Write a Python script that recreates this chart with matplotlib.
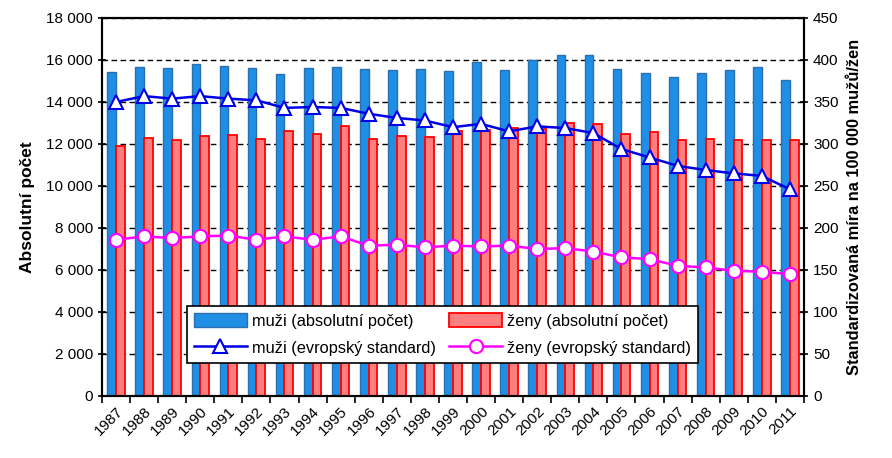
import matplotlib.pyplot as plt
from matplotlib.ticker import FuncFormatter, MultipleLocator
import numpy as np

plt.rcParams['font.family'] = ['Liberation Sans', 'DejaVu Sans']

roky = list(range(1987, 2012))

# absolutni pocty
muzi_abs = [15410, 15650, 15600, 15810, 15700, 15630, 15350, 15600, 15650, 15555,
            15505, 15570, 15460, 15900, 15540, 16000, 16220, 16250, 15590, 15380,
            15210, 15360, 15520, 15680, 15030]
zeny_abs = [11920, 12290, 12180, 12400, 12440, 12250, 12620, 12490, 12840, 12220,
            12360, 12330, 12620, 12680, 12780, 12730, 13020, 12950, 12480, 12560,
            12190, 12250, 12190, 12175, 12175]

# evropsky standard
muzi_std = [350, 357, 354, 357, 354, 352, 343, 344, 343, 336,
            331, 328, 320, 324, 315, 321, 319, 313, 294, 284,
            274, 269, 265, 262, 246]
zeny_std = [186, 190, 188, 190, 191, 186, 190, 186, 190, 179,
            180, 177, 179, 178, 179, 175, 176, 172, 165, 163,
            155, 153, 149, 148, 145]

x = np.arange(len(roky))

fig = plt.figure(figsize=(8.92, 4.58), dpi=100)
ax = fig.add_axes([0.1143, 0.1354, 0.787, 0.8253])
ax2 = ax.twinx()

w = 0.31
ax.bar(x - w / 2, muzi_abs, w, color='#1f8fe6', edgecolor='#2b6fae', linewidth=1,
       label='muži (absolutní počet)')
ax.bar(x + w / 2, zeny_abs, w, color='#ff7f7f', edgecolor='#ff0000', linewidth=1.3,
       label='ženy (absolutní počet)')

ax2.plot(x, muzi_std, color='#0000e6', lw=1.8, marker='^', ms=10,
         mfc='white', mec='#0000e6', mew=1.5, label='muži (evropský standard)')
ax2.plot(x, zeny_std, color='#ff00ff', lw=1.8, marker='o', ms=9.5,
         mfc='white', mec='#ff00ff', mew=1.5, label='ženy (evropský standard)')

ax.set_xlim(-0.5, len(roky) - 0.5)
ax.set_ylim(0, 18000)
ax2.set_ylim(0, 450)
ax.yaxis.set_major_locator(MultipleLocator(2000))
ax2.yaxis.set_major_locator(MultipleLocator(50))
ax.yaxis.set_major_formatter(FuncFormatter(lambda v, p: f'{int(v):,}'.replace(',', ' ')))

ax.set_axisbelow(True)
ax.grid(axis='y', color='black', linestyle=(0, (4, 2.5)), linewidth=1)

ax.set_xticks(x)
ax.set_xticklabels([str(r) for r in roky], rotation=45, ha='right',
                   rotation_mode='anchor', fontsize=11)
ax.set_xticks(np.arange(-0.5, len(roky)), minor=True)
ax.tick_params(axis='x', which='major', length=0, pad=6)
ax.tick_params(axis='x', which='minor', length=5, width=1.2, direction='out')
ax.tick_params(axis='y', labelsize=11, length=6, width=1.2, direction='inout')
ax2.tick_params(axis='y', labelsize=11, length=6, width=1.2, direction='inout')

for a in (ax, ax2):
    for s in a.spines.values():
        s.set_linewidth(1.5)

ax.set_ylabel('Absolutní počet', fontsize=12.5, fontweight='bold', labelpad=8)
ax2.set_ylabel('Standardizovaná míra na 100 000 mužů/žen', fontsize=11.8,
               fontweight='bold', labelpad=6)

h1, l1 = ax.get_legend_handles_labels()
h2, l2 = ax2.get_legend_handles_labels()
# ncol=2 plni po sloupcich
handles = [h1[0], h2[0], h1[1], h2[1]]
labels = [l1[0], l2[0], l1[1], l2[1]]
leg = ax2.legend(handles, labels, ncol=2, loc='lower left',
                 bbox_to_anchor=(0.121, 0.087, 0.728, 0.159), mode='expand',
                 fontsize=11.8, frameon=True, fancybox=False, edgecolor='black',
                 framealpha=1, handlelength=3.2, handleheight=0.9,
                 borderaxespad=0, borderpad=0.45, columnspacing=1.5,
                 labelspacing=0.7, handletextpad=0.3)
leg.get_frame().set_linewidth(1.2)

fig.savefig('out.png', dpi=100)
